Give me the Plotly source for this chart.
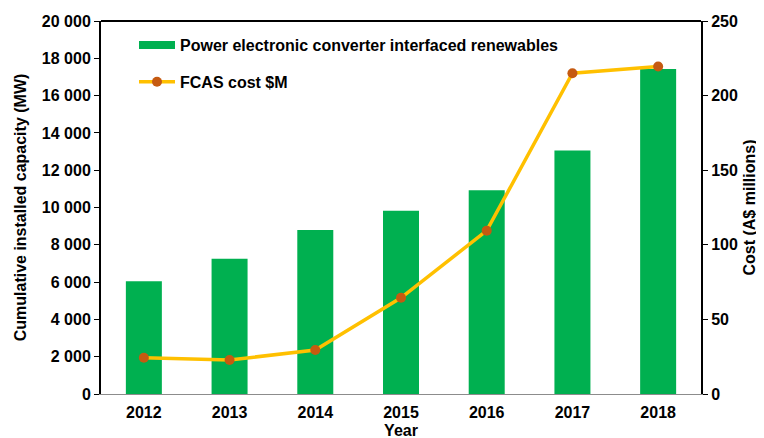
import plotly.graph_objects as go

YEARS = ["2012", "2013", "2014", "2015", "2016", "2017", "2018"]
CAPACITY_MW = [6050, 7250, 8800, 9830, 10920, 13050, 17430]
FCAS_COST = [24.3, 22.8, 29.5, 64.5, 109.5, 215, 219.5]

FONT = "Liberation Sans, Arial, sans-serif"
GREEN = "#00B050"

fig = go.Figure()
fig.add_trace(go.Bar(
    x=YEARS, y=CAPACITY_MW,
    marker=dict(color=GREEN, line=dict(width=0)),
    showlegend=False,
))
# legend entry drawn as a wide flat swatch like the original
fig.add_trace(go.Scatter(
    x=[None], y=[None], mode="lines",
    name="<b>Power electronic converter interfaced renewables</b>",
    line=dict(color=GREEN, width=8),
    legendgroup="a",
))
fig.add_trace(go.Scatter(
    x=YEARS, y=FCAS_COST, yaxis="y2",
    mode="lines+markers",
    name="<b>FCAS cost $M</b>",
    line=dict(color="#FFC000", width=3.5),
    marker=dict(color="#C55A11", size=10),
    legendgroup="b",
))

fig.update_layout(
    width=764, height=438,
    margin=dict(l=93, r=71, t=13, b=52),
    paper_bgcolor="white", plot_bgcolor="white",
    font=dict(family=FONT, size=16, color="black"),
    separators=". ",
    bargap=0.58,
    showlegend=True,
    legend=dict(
        x=0.055, y=0.981, xanchor="left", yanchor="top",
        bgcolor="rgba(0,0,0,0)", font=dict(size=16),
        tracegroupgap=13, itemwidth=36,
    ),
    xaxis=dict(
        title=dict(text="<b>Year</b>", font=dict(size=16), standoff=4),
        tickfont=dict(size=16), tickprefix="<b>", ticksuffix="</b>",
        ticklabelstandoff=4,
        showline=True, linecolor="#8c8c8c", linewidth=1,
        ticks="", showgrid=False, automargin=False,
    ),
    yaxis=dict(
        title=dict(text="<b>Cumulative installed capacity (MW)</b>", font=dict(size=16), standoff=11),
        range=[0, 20000], dtick=2000, tickformat=",d",
        tickfont=dict(size=16), tickprefix="<b>", ticksuffix="</b>",
        showline=True, linecolor="black", linewidth=2,
        ticks="outside", ticklen=5, tickcolor="black",
        showgrid=False, zeroline=False, automargin=False,
    ),
    yaxis2=dict(
        title=dict(text="<b>Cost (A$ millions)</b>", font=dict(size=16), standoff=7),
        overlaying="y", side="right",
        range=[0, 250], dtick=50,
        tickfont=dict(size=16), tickprefix="<b>", ticksuffix="</b>",
        showline=True, linecolor="black", linewidth=2,
        ticks="outside", ticklen=5, tickcolor="black",
        showgrid=False, zeroline=False, automargin=False,
    ),
    shapes=[dict(type="line", xref="paper", yref="paper", x0=0, x1=1, y0=1, y1=1,
                 line=dict(color="black", width=2))],
)

fig.write_html("out.html")
